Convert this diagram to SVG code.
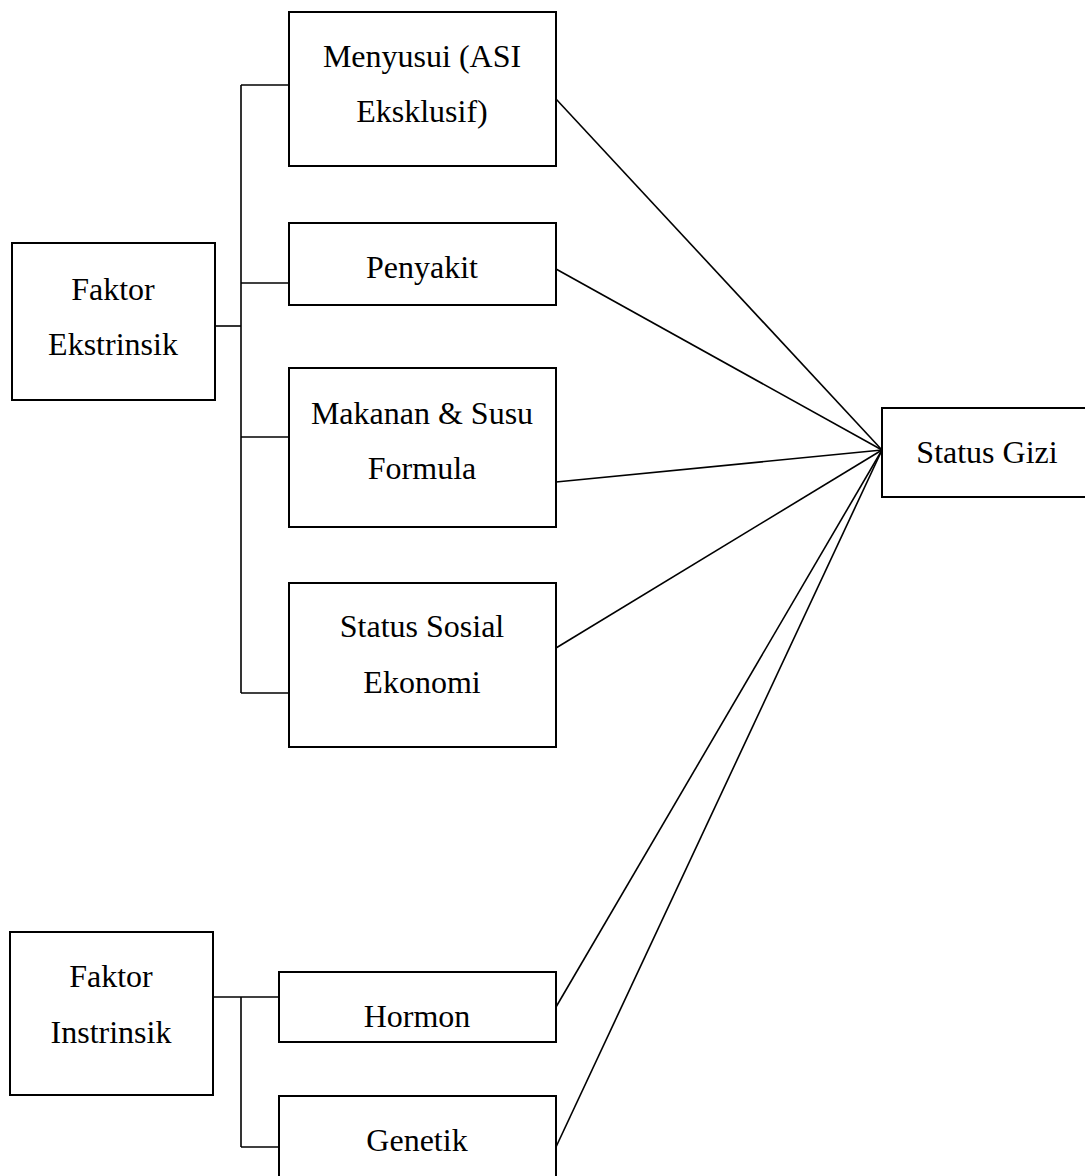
<svg xmlns="http://www.w3.org/2000/svg" width="1085" height="1176" viewBox="0 0 1085 1176">
<style>
rect{fill:#fff;stroke:#000;stroke-width:2}
text{font-family:"Liberation Serif","Times New Roman",serif;font-size:32px;fill:#000;text-anchor:middle}
.c line,.c polyline{stroke:#000;stroke-width:1.6;fill:none}
</style>
<rect width="1085" height="1176" style="stroke:none"/>
<g class="c" id="connectors">
<line x1="215" y1="326" x2="241" y2="326"/>
<line x1="241" y1="85" x2="241" y2="693"/>
<line x1="241" y1="85" x2="289" y2="85"/>
<line x1="241" y1="283" x2="289" y2="283"/>
<line x1="241" y1="437" x2="289" y2="437"/>
<line x1="241" y1="693" x2="289" y2="693"/>
<line x1="213" y1="997" x2="279" y2="997"/>
<line x1="241" y1="997" x2="241" y2="1147"/>
<line x1="241" y1="1147" x2="279" y2="1147"/>
<line x1="556" y1="99" x2="882" y2="450"/>
<line x1="556" y1="269" x2="882" y2="450"/>
<line x1="556" y1="482" x2="882" y2="450"/>
<line x1="556" y1="648" x2="882" y2="450"/>
<line x1="556" y1="1007" x2="882" y2="450"/>
<line x1="556" y1="1147" x2="882" y2="450"/>
</g>
<g id="faktor-ekstrinsik"><rect x="12" y="243" width="203" height="157"/><text x="113" y="300">Faktor</text><text x="113" y="355">Ekstrinsik</text></g>
<g id="menyusui"><rect x="289" y="12" width="267" height="154"/><text x="422" y="67">Menyusui (ASI</text><text x="422" y="122">Eksklusif)</text></g>
<g id="penyakit"><rect x="289" y="223" width="267" height="82"/><text x="422" y="278">Penyakit</text></g>
<g id="makanan"><rect x="289" y="368" width="267" height="159"/><text x="422" y="424">Makanan &amp; Susu</text><text x="422" y="479">Formula</text></g>
<g id="status-sosial"><rect x="289" y="583" width="267" height="164"/><text x="422" y="637">Status Sosial</text><text x="422" y="693">Ekonomi</text></g>
<g id="status-gizi"><rect x="882" y="408" width="210" height="89"/><text x="987" y="463">Status Gizi</text></g>
<g id="faktor-instrinsik"><rect x="10" y="932" width="203" height="163"/><text x="111" y="987">Faktor</text><text x="111" y="1043">Instrinsik</text></g>
<g id="hormon"><rect x="279" y="972" width="277" height="70"/><text x="417" y="1027">Hormon</text></g>
<g id="genetik"><rect x="279" y="1096" width="277" height="90"/><text x="417" y="1151">Genetik</text></g>
</svg>
